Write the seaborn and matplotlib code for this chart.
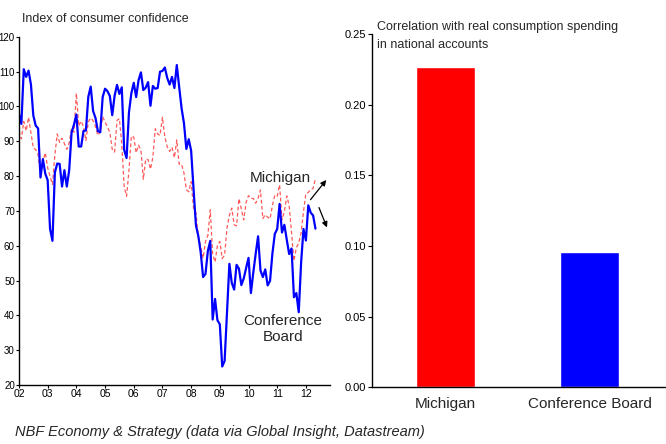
import numpy as np
import pandas as pd
import matplotlib
matplotlib.use("Agg")
import matplotlib.pyplot as plt
import seaborn as sns

# ── Data (monthly, Jan 2002 – May 2012) ──────────────────────────────────────
conf_board = [
    97.8, 95.0, 110.7, 108.5, 110.3, 106.3, 97.4, 94.5, 93.7, 79.6, 84.9, 80.7,   # 2002
    78.8, 64.8, 61.4, 81.0, 83.6, 83.5, 77.0, 81.7, 77.0, 81.7, 92.5, 94.8,       # 2003
    97.7, 88.5, 88.5, 93.0, 93.1, 102.8, 105.7, 98.7, 96.7, 92.9, 92.6, 102.7,    # 2004
    105.1, 104.4, 103.0, 97.5, 103.1, 106.2, 103.6, 105.5, 87.5, 85.2, 98.3, 103.8,  # 2005
    106.8, 102.7, 107.5, 109.8, 104.7, 105.4, 107.0, 100.2, 105.9, 105.1, 105.3, 110.0,  # 2006
    110.2, 111.2, 108.2, 106.3, 108.5, 105.3, 111.9, 105.6, 99.5, 95.2, 87.8, 90.6,  # 2007
    87.3, 76.4, 65.9, 62.8, 58.1, 51.0, 51.9, 58.5, 61.4, 38.8, 44.7, 38.6,       # 2008
    37.4, 25.3, 26.9, 40.8, 54.8, 49.3, 47.4, 54.5, 53.4, 48.7, 50.6, 53.6,       # 2009
    56.5, 46.4, 52.3, 57.7, 62.7, 52.9, 51.0, 53.2, 48.6, 49.9, 57.8, 63.4,       # 2010
    64.8, 72.0, 63.8, 66.0, 61.7, 57.6, 59.2, 45.2, 46.4, 40.9, 55.2, 64.8,       # 2011
    61.5, 71.6, 69.5, 68.7, 64.9,                                                 # 2012
]
michigan = [
    93.0, 90.7, 95.7, 93.0, 96.9, 92.4, 88.1, 87.6, 86.1, 80.6, 84.2, 86.7,       # 2002
    82.4, 79.9, 77.6, 86.0, 92.1, 89.7, 90.9, 89.3, 87.7, 89.6, 93.7, 92.6,       # 2003
    103.8, 94.4, 95.8, 94.2, 90.2, 95.6, 96.7, 95.9, 94.2, 91.7, 92.8, 97.1,      # 2004
    95.5, 94.1, 92.6, 87.7, 86.9, 96.0, 96.5, 89.1, 76.9, 74.2, 81.6, 91.5,       # 2005
    91.2, 86.7, 88.9, 87.4, 79.1, 84.9, 84.7, 82.0, 85.4, 93.6, 92.1, 91.7,       # 2006
    96.9, 91.3, 88.4, 87.1, 88.3, 85.3, 90.4, 83.4, 83.4, 80.9, 76.1, 75.5,       # 2007
    78.4, 70.8, 69.5, 62.6, 59.8, 56.4, 61.2, 63.0, 70.3, 57.6, 55.3, 60.1,       # 2008
    61.2, 56.3, 57.3, 65.1, 68.7, 70.8, 66.0, 65.7, 73.5, 70.6, 67.4, 72.5,       # 2009
    74.4, 73.6, 73.6, 72.2, 73.6, 76.0, 67.8, 68.9, 68.2, 67.7, 71.6, 74.5,       # 2010
    74.2, 77.5, 67.5, 69.8, 74.3, 71.5, 63.7, 55.7, 59.4, 60.8, 63.7, 69.9,       # 2011
    75.0, 75.3, 76.2, 76.4, 79.3,                                                 # 2012
]
year_ticks = list(range(2002, 2013))
year_labels = [f"{y % 100:02d}" for y in year_ticks]

bar_names = ["Michigan", "Conference Board"]
bar_values = [0.227, 0.096]
bar_colors = ["#FF0000", "#0000FF"]

months = 2002 + np.arange(len(conf_board)) / 12.0
lines = pd.DataFrame({"t": months, "cb": conf_board, "mich": michigan})
bars = pd.DataFrame({"survey": bar_names, "corr": bar_values})

# ── Style ────────────────────────────────────────────────────────────────────
sns.set_style("ticks")
plt.rcParams["font.family"] = ["Liberation Sans", "DejaVu Sans"]

fig = plt.figure(figsize=(6.66, 4.44), dpi=100, facecolor="white")
ax1 = fig.add_axes([0.0285, 0.133, 0.467, 0.784])
ax2 = fig.add_axes([0.5586, 0.128, 0.4399, 0.795])

# ── Left: index of consumer confidence ───────────────────────────────────────
sns.lineplot(data=lines, x="t", y="mich", ax=ax1, color="#FF5A5A",
             linewidth=0.9, linestyle=(0, (3, 2)))
sns.lineplot(data=lines, x="t", y="cb", ax=ax1, color="#0000FF", linewidth=1.6)

ax1.set_xlim(2002, 2012.84)
ax1.set_ylim(20, 120)
ax1.set_yticks(range(20, 121, 10))
ax1.set_xticks(year_ticks)
ax1.set_xticklabels(year_labels, fontsize=7.5)
ax1.set_yticklabels([str(v) for v in range(20, 121, 10)], fontsize=7)
ax1.tick_params(length=2, width=0.8, pad=1, colors="black")
ax1.set_xlabel("")
ax1.set_ylabel("")
for s in ["top", "right"]:
    ax1.spines[s].set_visible(False)
for s in ["left", "bottom"]:
    ax1.spines[s].set_linewidth(1.0)
    ax1.spines[s].set_color("black")

fig.text(0.033, 0.958, "Index of consumer confidence", fontsize=9, va="center")

ax1.text(2011.1, 79.5, "Michigan", fontsize=11, ha="center", va="center")
ax1.text(2011.2, 36, "Conference\nBoard", fontsize=11, ha="center", va="center",
         linespacing=1.15)
ax1.annotate("", xy=(2012.77, 79.5), xytext=(2012.1, 72.6),
             arrowprops=dict(arrowstyle="-|>", color="black", lw=0.9,
                             mutation_scale=8))
ax1.annotate("", xy=(2012.77, 64.5), xytext=(2012.42, 71.7),
             arrowprops=dict(arrowstyle="-|>", color="black", lw=0.9,
                             mutation_scale=8))

# ── Right: correlation bars ──────────────────────────────────────────────────
sns.barplot(data=bars, x="survey", y="corr", hue="survey", palette=bar_colors,
            legend=False, width=0.41, ax=ax2, saturation=1)
ax2.set_xlim(-0.507, 1.52)
ax2.set_ylim(0, 0.25)
ax2.set_yticks(np.arange(0, 0.251, 0.05))
ax2.set_yticklabels([f"{v:.2f}" for v in np.arange(0, 0.251, 0.05)], fontsize=8)
ax2.set_xticks([0, 1])
ax2.set_xticklabels(bar_names, fontsize=11)
ax2.tick_params(axis="y", length=3, width=0.8, pad=1.5, colors="black")
ax2.tick_params(axis="x", length=0, pad=7)
ax2.set_xlabel("")
ax2.set_ylabel("")
for s in ["top", "right"]:
    ax2.spines[s].set_visible(False)
for s in ["left", "bottom"]:
    ax2.spines[s].set_linewidth(1.0)
    ax2.spines[s].set_color("black")

ax2.text(0.017, 0.995, "Correlation with real consumption spending\nin national accounts",
         transform=ax2.transAxes, fontsize=9, va="center", ha="left",
         linespacing=1.75)

fig.text(0.023, 0.027, "NBF Economy & Strategy (data via Global Insight, Datastream)",
         fontsize=10.5, style="italic", va="center")

fig.savefig("out.png", dpi=100, facecolor="white")
